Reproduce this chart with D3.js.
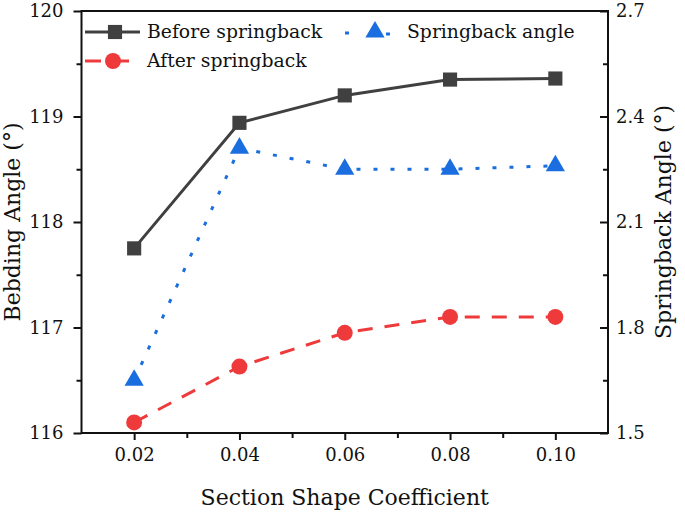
<!DOCTYPE html>
<html><head><meta charset="utf-8">
<script src="https://cdn.jsdelivr.net/npm/d3@7"></script>
<style>body{margin:0;background:#fff}svg{display:block}</style>
</head><body><svg id="c" width="685" height="516"></svg>
<script>
const coeff = [0.02, 0.04, 0.06, 0.08, 0.10];
const beforeSpringback = [117.75, 118.94, 119.2, 119.35, 119.36];
const afterSpringback = [116.1, 116.63, 116.95, 117.1, 117.1];
const springbackAngle = [1.65, 2.31, 2.25, 2.25, 2.26];
const xTicks = [0.02, 0.04, 0.06, 0.08, 0.10];
const yLeftTicks = [116, 117, 118, 119, 120];
const yRightTicks = [1.5, 1.8, 2.1, 2.4, 2.7];

const FONT = "DejaVu Serif";
const svg = d3.select("#c").attr("font-family", FONT);
const L = 81.5, R = 608, T = 11, B = 433;
const x = d3.scaleLinear().domain([0.01, 0.11]).range([L, R]);
const yL = d3.scaleLinear().domain([116, 120]).range([B, T]);
const yR = d3.scaleLinear().domain([1.5, 2.7]).range([B, T]);

const axColor = "#111";
svg.append("rect").attr("x", L).attr("y", T).attr("width", R - L).attr("height", B - T)
  .attr("fill", "none").attr("stroke", axColor).attr("stroke-width", 2);

function styleAxis(g) {
  g.attr("font-family", FONT).attr("font-size", 18);
  g.select(".domain").remove();
  g.selectAll("line").attr("stroke", axColor).attr("stroke-width", 2);
  g.selectAll("text").attr("font-family", FONT).attr("font-size", 18).attr("fill", "#111");
}
svg.append("g").attr("transform", `translate(0,${B})`)
  .call(d3.axisBottom(x).tickValues(xTicks).tickFormat(d3.format(".2f")).tickSize(7).tickPadding(8)).call(styleAxis);
svg.append("g").attr("transform", `translate(0,${B})`)
  .call(d3.axisBottom(x).tickValues([0.03, 0.05, 0.07, 0.09]).tickFormat("").tickSize(5)).call(styleAxis);
svg.append("g").attr("transform", `translate(${L},0)`)
  .call(d3.axisLeft(yL).tickValues(yLeftTicks).tickFormat(d3.format("d")).tickSize(8).tickPadding(10)).call(styleAxis);
svg.append("g").attr("transform", `translate(${L},0)`)
  .call(d3.axisLeft(yL).tickValues([116.5, 117.5, 118.5, 119.5]).tickFormat("").tickSize(5)).call(styleAxis);
svg.append("g").attr("transform", `translate(${R},0)`)
  .call(d3.axisRight(yR).tickValues(yRightTicks).tickFormat(d3.format(".1f")).tickSize(-8).tickPadding(8)).call(styleAxis);
svg.append("g").attr("transform", `translate(${R},0)`)
  .call(d3.axisRight(yR).tickValues([1.65, 1.95, 2.25, 2.55]).tickFormat("").tickSize(-5)).call(styleAxis);

function txt(sel, size) { return sel.attr("font-family", FONT).attr("font-size", size).attr("fill", "#111"); }
txt(svg.append("text"), 22).attr("x", (L + R) / 2).attr("y", 505).attr("text-anchor", "middle")
  .text("Section Shape Coefficient");
txt(svg.append("text"), 22).attr("transform", `translate(20,${(T + B) / 2}) rotate(-90)`).attr("text-anchor", "middle")
  .text("Bebding Angle (°)");
txt(svg.append("text"), 22).attr("transform", `translate(671,${(T + B) / 2}) rotate(-90)`).attr("text-anchor", "middle")
  .text("Springback Angle (°)");

const cBefore = "#404040", cAfter = "#ee3a3b", cSpring = "#1a6edf";
const line = (ys) => d3.line().x((d, i) => x(coeff[i])).y(d => ys(d));
const dashAfter = "15,12", dotSpring = "4,13";

svg.append("path").datum(beforeSpringback).attr("d", line(yL)).attr("fill", "none")
  .attr("stroke", cBefore).attr("stroke-width", 3);
svg.append("path").datum(afterSpringback).attr("d", line(yL)).attr("fill", "none")
  .attr("stroke", cAfter).attr("stroke-width", 3).attr("stroke-dasharray", dashAfter);
svg.append("path").datum(springbackAngle).attr("d", line(yR)).attr("fill", "none")
  .attr("stroke", cSpring).attr("stroke-width", 3).attr("stroke-dasharray", dotSpring);

const sq = d3.symbol().type(d3.symbolSquare).size(200);
const ci = d3.symbol().type(d3.symbolCircle).size(200);
const tri = d3.symbol().type(d3.symbolTriangle).size(160);

svg.selectAll(".mb").data(beforeSpringback).join("path")
  .attr("d", sq).attr("transform", (d, i) => `translate(${x(coeff[i])},${yL(d)})`).attr("fill", cBefore);
svg.selectAll(".ma").data(afterSpringback).join("path")
  .attr("d", ci).attr("transform", (d, i) => `translate(${x(coeff[i])},${yL(d)})`).attr("fill", cAfter);
svg.selectAll(".ms").data(springbackAngle).join("path")
  .attr("d", tri).attr("transform", (d, i) => `translate(${x(coeff[i])},${yR(d)})`).attr("fill", cSpring);

const lg = svg.append("g");
lg.append("line").attr("x1", 85).attr("x2", 140).attr("y1", 32).attr("y2", 32).attr("stroke", cBefore).attr("stroke-width", 3);
lg.append("path").attr("d", sq).attr("transform", "translate(115,32)").attr("fill", cBefore);
txt(lg.append("text"), 18.8).attr("x", 147).attr("y", 38).text("Before springback");
lg.append("line").attr("x1", 85).attr("x2", 101).attr("y1", 61).attr("y2", 61).attr("stroke", cAfter).attr("stroke-width", 3);
lg.append("line").attr("x1", 119).attr("x2", 129).attr("y1", 61).attr("y2", 61).attr("stroke", cAfter).attr("stroke-width", 3);
lg.append("path").attr("d", ci).attr("transform", "translate(113,61)").attr("fill", cAfter);
txt(lg.append("text"), 18.8).attr("x", 147).attr("y", 67).text("After springback");
lg.append("line").attr("x1", 345).attr("x2", 349).attr("y1", 33).attr("y2", 33).attr("stroke", cSpring).attr("stroke-width", 3);
lg.append("line").attr("x1", 386).attr("x2", 390).attr("y1", 34).attr("y2", 34).attr("stroke", cSpring).attr("stroke-width", 3);
lg.append("path").attr("d", tri).attr("transform", "translate(375,32)").attr("fill", cSpring);
txt(lg.append("text"), 18.8).attr("x", 407).attr("y", 38).text("Springback angle");
</script></body></html>
